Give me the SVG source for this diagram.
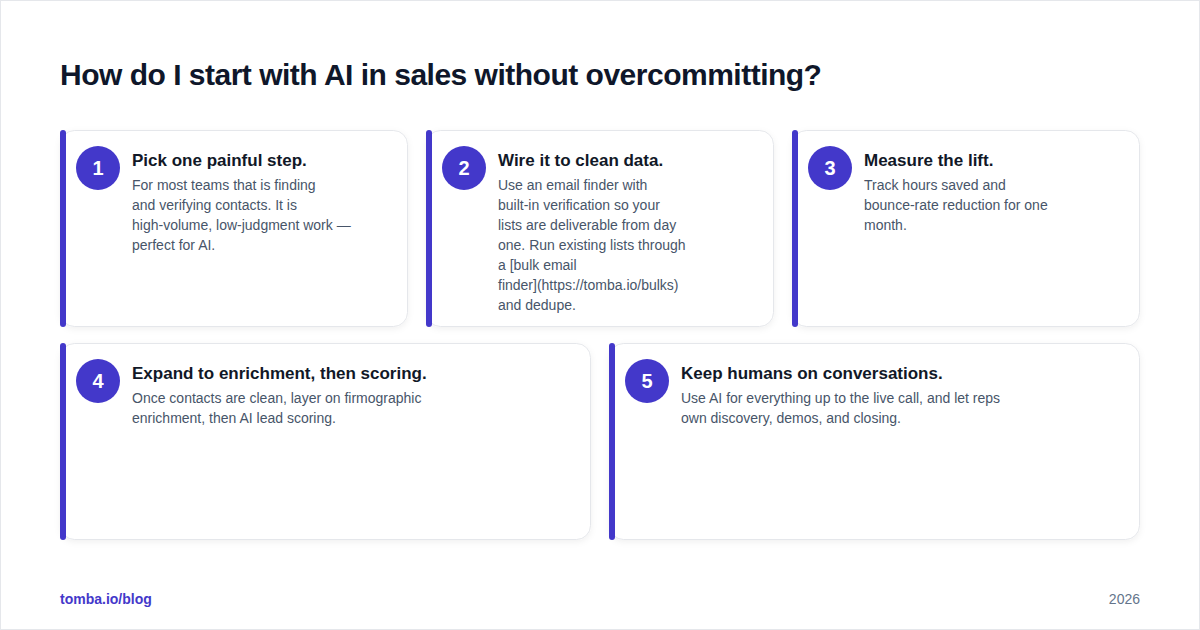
<svg xmlns="http://www.w3.org/2000/svg" width="1200" height="630" viewBox="0 0 1200 630">
<defs>
<filter id="sh" x="-10%" y="-10%" width="120%" height="130%">
<feDropShadow dx="0" dy="2" stdDeviation="3" flood-color="#0f172a" flood-opacity="0.06"/>
</filter>
</defs>
<style>
.card{fill:#ffffff;stroke:#e5e7eb;stroke-width:1;filter:url(#sh)}
.bar{fill:#4338ca}
.num-c{fill:#4338ca}
.num{font-family:"Liberation Sans",Arial,sans-serif;font-size:20px;font-weight:bold;fill:#ffffff;text-anchor:middle}
.t{font-family:"Liberation Sans",Arial,sans-serif;font-size:17px;font-weight:bold;fill:#111827}
.b{font-family:"Liberation Sans",Arial,sans-serif;font-size:14px;fill:#475569}
</style>
<rect x="0.5" y="0.5" width="1199" height="629" fill="#ffffff" stroke="#e5e7eb"/>
<text x="60" y="85" font-family="Liberation Sans, Arial, sans-serif" font-size="30" font-weight="bold" fill="#0f172a" letter-spacing="-0.5">How do I start with AI in sales without overcommitting?</text>

<g id="node1">
<rect class="card" x="60.5" y="130.5" width="347" height="196" rx="14"/>
<rect class="bar" x="60" y="130" width="6" height="197" rx="3"/>
<circle class="num-c" cx="98" cy="168" r="22"/>
<text class="num" x="98" y="175">1</text>
<text class="t" x="132" y="166">Pick one painful step.</text>
<text class="b" x="132" y="190">For most teams that is finding</text>
<text class="b" x="132" y="210">and verifying contacts. It is</text>
<text class="b" x="132" y="230">high-volume, low-judgment work —</text>
<text class="b" x="132" y="250">perfect for AI.</text>
</g>

<g id="node2">
<rect class="card" x="426.5" y="130.5" width="347" height="196" rx="14"/>
<rect class="bar" x="426" y="130" width="6" height="197" rx="3"/>
<circle class="num-c" cx="464" cy="168" r="22"/>
<text class="num" x="464" y="175">2</text>
<text class="t" x="498" y="166">Wire it to clean data.</text>
<text class="b" x="498" y="190">Use an email finder with</text>
<text class="b" x="498" y="210">built-in verification so your</text>
<text class="b" x="498" y="230">lists are deliverable from day</text>
<text class="b" x="498" y="250">one. Run existing lists through</text>
<text class="b" x="498" y="270">a [bulk email</text>
<text class="b" x="498" y="290">finder](https://tomba.io/bulks)</text>
<text class="b" x="498" y="310">and dedupe.</text>
</g>

<g id="node3">
<rect class="card" x="792.5" y="130.5" width="347" height="196" rx="14"/>
<rect class="bar" x="792" y="130" width="6" height="197" rx="3"/>
<circle class="num-c" cx="830" cy="168" r="22"/>
<text class="num" x="830" y="175">3</text>
<text class="t" x="864" y="166">Measure the lift.</text>
<text class="b" x="864" y="190">Track hours saved and</text>
<text class="b" x="864" y="210">bounce-rate reduction for one</text>
<text class="b" x="864" y="230">month.</text>
</g>

<g id="node4">
<rect class="card" x="60.5" y="343.5" width="530" height="196" rx="14"/>
<rect class="bar" x="60" y="343" width="6" height="197" rx="3"/>
<circle class="num-c" cx="98" cy="381" r="22"/>
<text class="num" x="98" y="388">4</text>
<text class="t" x="132" y="379">Expand to enrichment, then scoring.</text>
<text class="b" x="132" y="403">Once contacts are clean, layer on firmographic</text>
<text class="b" x="132" y="423">enrichment, then AI lead scoring.</text>
</g>

<g id="node5">
<rect class="card" x="609.5" y="343.5" width="530" height="196" rx="14"/>
<rect class="bar" x="609" y="343" width="6" height="197" rx="3"/>
<circle class="num-c" cx="647" cy="381" r="22"/>
<text class="num" x="647" y="388">5</text>
<text class="t" x="681" y="379">Keep humans on conversations.</text>
<text class="b" x="681" y="403">Use AI for everything up to the live call, and let reps</text>
<text class="b" x="681" y="423">own discovery, demos, and closing.</text>
</g>

<g id="connectors"></g>

<text x="60" y="604" font-family="Liberation Sans, Arial, sans-serif" font-size="14" font-weight="bold" fill="#4338ca">tomba.io/blog</text>
<text x="1140" y="604" text-anchor="end" font-family="Liberation Sans, Arial, sans-serif" font-size="14" fill="#64748b">2026</text>
</svg>
